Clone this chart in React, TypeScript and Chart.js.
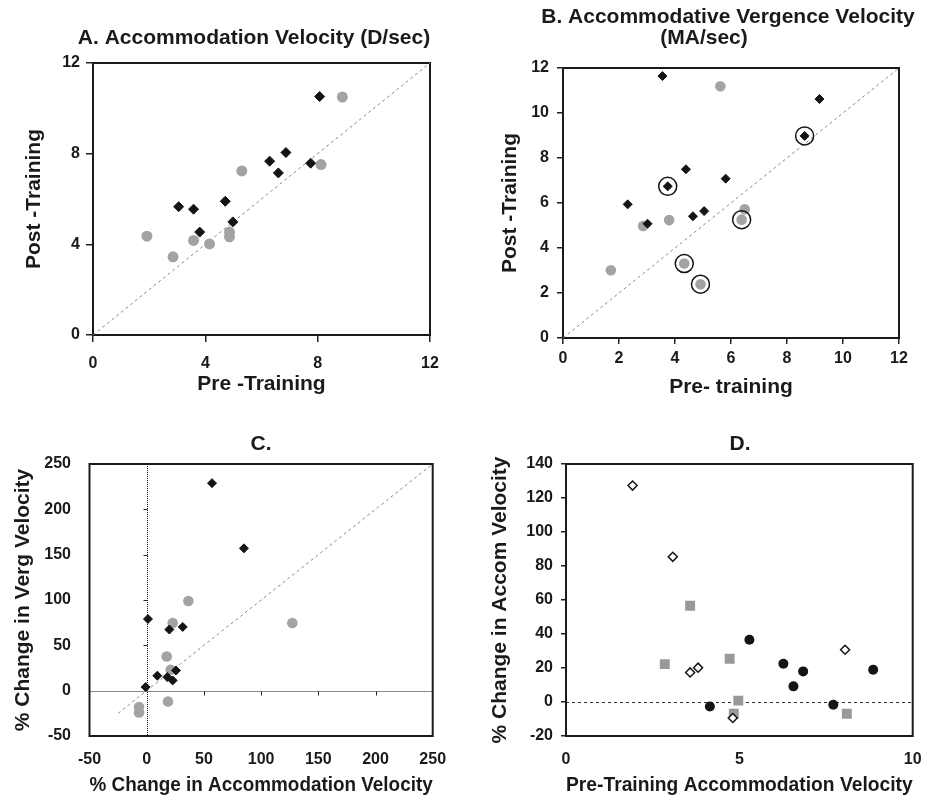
import React, { useEffect, useRef } from "react";
import { Chart, registerables } from "chart.js";
Chart.register(...registerables);

// ---------- Panel A: Accommodation velocity (D/sec) ----------
const aTicks = [0, 4, 8, 12];
const aDiamondX = [3.05, 3.58, 3.8, 4.71, 4.98, 6.29, 6.6, 6.87, 7.75, 8.07];
const aDiamondY = [5.66, 5.55, 4.54, 5.9, 4.99, 7.67, 7.15, 8.05, 7.58, 10.52];
const aCircleX = [1.92, 2.85, 3.58, 4.15, 4.86, 4.86, 5.3, 8.12, 8.88];
const aCircleY = [4.36, 3.45, 4.17, 4.02, 4.54, 4.33, 7.24, 7.52, 10.5];
const aDiagonal = [0, 12];

// ---------- Panel B: Accommodative vergence velocity (MA/sec) ----------
const bTicks = [0, 2, 4, 6, 8, 10, 12];
const bDiamondX = [3.55, 2.31, 3.02, 3.74, 4.39, 4.64, 5.04, 5.81, 8.63, 9.16];
const bDiamondY = [11.64, 5.94, 5.08, 6.74, 7.5, 5.41, 5.64, 7.08, 8.98, 10.62];
const bCircleX = [1.71, 2.86, 3.79, 4.33, 4.91, 5.62, 6.49, 6.38];
const bCircleY = [3.01, 4.98, 5.24, 3.31, 2.39, 11.19, 5.72, 5.26];
const bRingX = [3.74, 8.63, 4.33, 4.91, 6.38];
const bRingY = [6.74, 8.98, 3.31, 2.39, 5.26];
const bDiagonal = [0, 12];

// ---------- Panel C: % change ----------
const cTicks = [-50, 0, 50, 100, 150, 200, 250];
const cDiamondX = [57.1, 85, 1.1, 19.8, 31.5, -0.9, 9.3, 18, 22.7, 25.6];
const cDiamondY = [228.9, 157, 79, 67.4, 70.3, 4, 16.5, 15, 11.3, 22.3];
const cCircleX = [36.4, 22.7, 127.3, 17.5, 21, 18.6, -6.7, -6.7];
const cCircleY = [98.9, 74.7, 74.7, 37.7, 23, -12, -18, -24];
const cDiagonal = [-25, 250];

// ---------- Panel D: % change in accommodation vs pre-training ----------
const dXTicks = [0, 5, 10];
const dYTicks = [-20, 0, 20, 40, 60, 80, 100, 120, 140];
const dOpenDiamondX = [1.92, 3.08, 3.58, 3.81, 4.81, 8.05];
const dOpenDiamondY = [127.3, 85.4, 17.4, 20.2, -9.4, 30.7];
const dSquareX = [2.85, 3.58, 4.72, 4.97, 4.84, 8.1];
const dSquareY = [22.3, 56.6, 25.4, 0.8, -6.9, -6.9];
const dCircleX = [4.15, 5.29, 6.27, 6.56, 6.84, 7.71, 8.86];
const dCircleY = [-2.6, 36.6, 22.5, 9.2, 18, -1.6, 19];

const FONT = "'Liberation Sans', Arial, Helvetica, sans-serif";
const INK = "#1a1a1a";

function pts(xs: number[], ys: number[]) {
  return xs.map((x, i) => ({ x, y: ys[i] }));
}

function diag(ends: number[]) {
  return {
    type: "line" as const,
    data: ends.map((v) => ({ x: v, y: v })),
    showLine: true,
    borderColor: "#8a8a8a",
    borderWidth: 1,
    borderDash: [3, 3],
    pointRadius: 0,
    fill: false,
    order: 10,
  };
}

function marker(data: any[], style: string, radius: number, bg: string, border: string, bw: number, order: number) {
  return {
    type: "scatter" as const,
    data,
    pointStyle: style,
    pointRadius: radius,
    pointHoverRadius: radius,
    backgroundColor: bg,
    borderColor: border,
    borderWidth: bw,
    order,
  };
}

type RefCfg = {
  vZero?: boolean;
  hZero?: boolean;
  dash?: number[];
  color?: string;
  zeroTicks?: boolean;
};

type TitleLine = { text: string; x: number; y: number };

function framePlugin(ref: RefCfg, titleLines: TitleLine[]) {
  return {
    id: "frameAndRefs",
    beforeDatasetsDraw(chart: any) {
      const { ctx, chartArea: a, scales } = chart;
      const xs = scales.x;
      const ys = scales.y;
      ctx.save();
      ctx.strokeStyle = ref.color || "#000";
      ctx.lineWidth = 1;
      ctx.setLineDash(ref.dash || [2, 1]);
      if (ref.vZero) {
        const px = Math.round(xs.getPixelForValue(0)) + 0.5;
        ctx.beginPath();
        ctx.moveTo(px, a.top);
        ctx.lineTo(px, a.bottom);
        ctx.stroke();
      }
      if (ref.hZero) {
        const py = Math.round(ys.getPixelForValue(0)) + 0.5;
        ctx.beginPath();
        ctx.moveTo(a.left, py);
        ctx.lineTo(a.right, py);
        ctx.stroke();
      }
      ctx.setLineDash([]);
      if (ref.zeroTicks) {
        const py0 = Math.round(ys.getPixelForValue(0)) + 0.5;
        const px0 = Math.round(xs.getPixelForValue(0)) + 0.5;
        ctx.strokeStyle = "#222";
        xs.ticks.forEach((t: any) => {
          if (t.value === 0 || t.value === xs.min || t.value === xs.max) return;
          const px = Math.round(xs.getPixelForValue(t.value)) + 0.5;
          ctx.beginPath();
          ctx.moveTo(px, py0);
          ctx.lineTo(px, py0 + 4);
          ctx.stroke();
        });
        ys.ticks.forEach((t: any) => {
          if (t.value === 0 || t.value === ys.min || t.value === ys.max) return;
          const py = Math.round(ys.getPixelForValue(t.value)) + 0.5;
          ctx.beginPath();
          ctx.moveTo(px0, py);
          ctx.lineTo(px0 - 4, py);
          ctx.stroke();
        });
      }
      ctx.strokeStyle = INK;
      ctx.lineWidth = 2;
      ctx.strokeRect(a.left, a.top, a.right - a.left, a.bottom - a.top);
      ctx.restore();
    },
    afterDraw(chart: any) {
      const { ctx } = chart;
      ctx.save();
      ctx.fillStyle = INK;
      ctx.font = `bold 21px ${FONT}`;
      ctx.textAlign = "center";
      ctx.textBaseline = "middle";
      titleLines.forEach((l) => ctx.fillText(l.text, l.x, l.y));
      ctx.restore();
    },
  };
}

type PanelSpec = {
  left: number;
  top: number;
  w: number;
  h: number;
  plotLeft: number;
  plotTop: number;
  plotRight: number;
  plotBottom: number;
  titles: TitleLine[];
  xTitle: string;
  yTitle: string;
  xTitlePadBottom: number;
  yTitlePadTop: number;
  xTicks: number[];
  yTicks: number[];
  xTickLen: number;
  yTickLen: number;
  xTickPad: number;
  yTickPad: number;
  datasets: any[];
  ref: RefCfg;
};

function buildConfig(p: PanelSpec): any {
  const tickFont = { family: FONT, size: 16, weight: "bold" as const, lineHeight: 1.2 };
  const titleFont = { family: FONT, size: 21, weight: "bold" as const, lineHeight: 1.2 };
  const gridFor = (len: number) =>
    len > 0
      ? { display: true, drawOnChartArea: false, drawTicks: true, tickLength: len, color: "#222", lineWidth: 1.5 }
      : { display: false };
  // titles are given in page coordinates; convert to canvas coordinates
  const localTitles = p.titles.map((t) => ({ text: t.text, x: t.x - p.left, y: t.y - p.top }));
  return {
    type: "scatter",
    data: { datasets: p.datasets },
    plugins: [framePlugin(p.ref, localTitles)],
    options: {
      responsive: false,
      animation: false,
      events: [],
      layout: { padding: { left: 0, top: p.plotTop, bottom: 0, right: p.w - p.plotRight } },
      plugins: {
        legend: { display: false },
        tooltip: { enabled: false },
        title: { display: false },
      },
      scales: {
        x: {
          type: "linear",
          min: p.xTicks[0],
          max: p.xTicks[p.xTicks.length - 1],
          afterBuildTicks: (s: any) => {
            s.ticks = p.xTicks.map((v) => ({ value: v }));
          },
          ticks: { font: tickFont, color: INK, padding: p.xTickPad, maxRotation: 0, autoSkip: false },
          grid: gridFor(p.xTickLen),
          border: { display: false },
          title: { display: true, text: p.xTitle, color: INK, font: titleFont, padding: { top: 0, bottom: p.xTitlePadBottom } },
          afterFit: (s: any) => {
            s.height = p.h - p.plotBottom;
          },
        },
        y: {
          type: "linear",
          min: p.yTicks[0],
          max: p.yTicks[p.yTicks.length - 1],
          afterBuildTicks: (s: any) => {
            s.ticks = p.yTicks.map((v) => ({ value: v }));
          },
          ticks: { font: tickFont, color: INK, padding: p.yTickPad, autoSkip: false },
          grid: gridFor(p.yTickLen),
          border: { display: false },
          title: { display: true, text: p.yTitle, color: INK, font: titleFont, padding: { top: p.yTitlePadTop, bottom: 0 } },
          afterFit: (s: any) => {
            s.width = p.plotLeft;
          },
        },
      },
    },
  };
}

function Panel({ spec }: { spec: PanelSpec }) {
  const ref = useRef<HTMLCanvasElement>(null);
  useEffect(() => {
    const chart = new Chart(ref.current as HTMLCanvasElement, buildConfig(spec));
    return () => chart.destroy();
  }, []);
  return (
    <canvas
      ref={ref}
      width={spec.w}
      height={spec.h}
      style={{ position: "absolute", left: spec.left, top: spec.top, width: spec.w, height: spec.h }}
    />
  );
}

const GREY = "#a3a3a3";
const BLACK = "#141414";

const specA: PanelSpec = {
  left: 0, top: 0, w: 465, h: 400, plotLeft: 93, plotTop: 63, plotRight: 430, plotBottom: 335,
  titles: [{ text: "A. Accommodation Velocity (D/sec)", x: 254, y: 38.5 }],
  xTitle: "Pre -Training", yTitle: "Post -Training", xTitlePadBottom: 3.4, yTitlePadTop: 21.9,
  xTicks: aTicks, yTicks: aTicks, xTickLen: 7, yTickLen: 7, xTickPad: 12, yTickPad: 6,
  datasets: [
    diag(aDiagonal),
    marker(pts(aCircleX, aCircleY), "circle", 5.5, GREY, GREY, 0, 3),
    marker(pts(aDiamondX, aDiamondY), "rectRot", 5, BLACK, BLACK, 1, 2),
  ],
  ref: {},
};

const specB: PanelSpec = {
  left: 465, top: 0, w: 466, h: 400, plotLeft: 98, plotTop: 68, plotRight: 434, plotBottom: 338,
  titles: [
    { text: "B. Accommodative Vergence Velocity", x: 728, y: 17.5 },
    { text: "(MA/sec)", x: 704, y: 38.5 },
  ],
  xTitle: "Pre- training", yTitle: "Post -Training", xTitlePadBottom: 0, yTitlePadTop: 33,
  xTicks: bTicks, yTicks: bTicks, xTickLen: 6, yTickLen: 6, xTickPad: 5, yTickPad: 8,
  datasets: [
    diag(bDiagonal),
    marker(pts(bCircleX, bCircleY), "circle", 5.3, GREY, GREY, 0, 3),
    marker(pts(bDiamondX, bDiamondY), "rectRot", 4.5, BLACK, BLACK, 1, 2),
    marker(pts(bRingX, bRingY), "circle", 9, "rgba(0,0,0,0)", BLACK, 1.5, 1),
  ],
  ref: {},
};

const specC: PanelSpec = {
  left: 0, top: 400, w: 465, h: 399, plotLeft: 89.5, plotTop: 64, plotRight: 432.7, plotBottom: 336,
  titles: [{ text: "C.", x: 261, y: 444.5 }],
  xTitle: "% Change in Accommodation Velocity", yTitle: "% Change in Verg Velocity",
  xTitlePadBottom: 1.4, yTitlePadTop: 10.9,
  xTicks: cTicks, yTicks: cTicks, xTickLen: 0, yTickLen: 0, xTickPad: 6.4, yTickPad: 10.5,
  datasets: [
    diag(cDiagonal),
    marker(pts(cCircleX, cCircleY), "circle", 5.3, GREY, GREY, 0, 3),
    marker(pts(cDiamondX, cDiamondY), "rectRot", 4.5, BLACK, BLACK, 1, 2),
  ],
  ref: { vZero: true, hZero: true, dash: [1, 1], color: "#111", zeroTicks: true },
};

const specD: PanelSpec = {
  left: 465, top: 400, w: 466, h: 399, plotLeft: 101, plotTop: 64, plotRight: 447.7, plotBottom: 336,
  titles: [{ text: "D.", x: 740, y: 444.5 }],
  xTitle: "Pre-Training Accommodation Velocity", yTitle: "% Change in Accom Velocity",
  xTitlePadBottom: 1.4, yTitlePadTop: 22.4,
  xTicks: dXTicks, yTicks: dYTicks, xTickLen: 0, yTickLen: 5, xTickPad: 6.4, yTickPad: 8,
  datasets: [
    marker(pts(dSquareX, dSquareY), "rect", 7, "#999999", "#999999", 0, 3),
    marker(pts(dCircleX, dCircleY), "circle", 5, BLACK, BLACK, 0, 2),
    marker(pts(dOpenDiamondX, dOpenDiamondY), "rectRot", 4.5, "#ffffff", BLACK, 1.5, 1),
  ],
  ref: { hZero: true, dash: [3, 3], color: "#333" },
};

export default function App() {
  return (
    <div
      style={{
        position: "absolute",
        left: 0,
        top: 0,
        width: 931,
        height: 799,
        background: "#ffffff",
        overflow: "hidden",
      }}
    >
      <Panel spec={specA} />
      <Panel spec={specB} />
      <Panel spec={specC} />
      <Panel spec={specD} />
    </div>
  );
}
